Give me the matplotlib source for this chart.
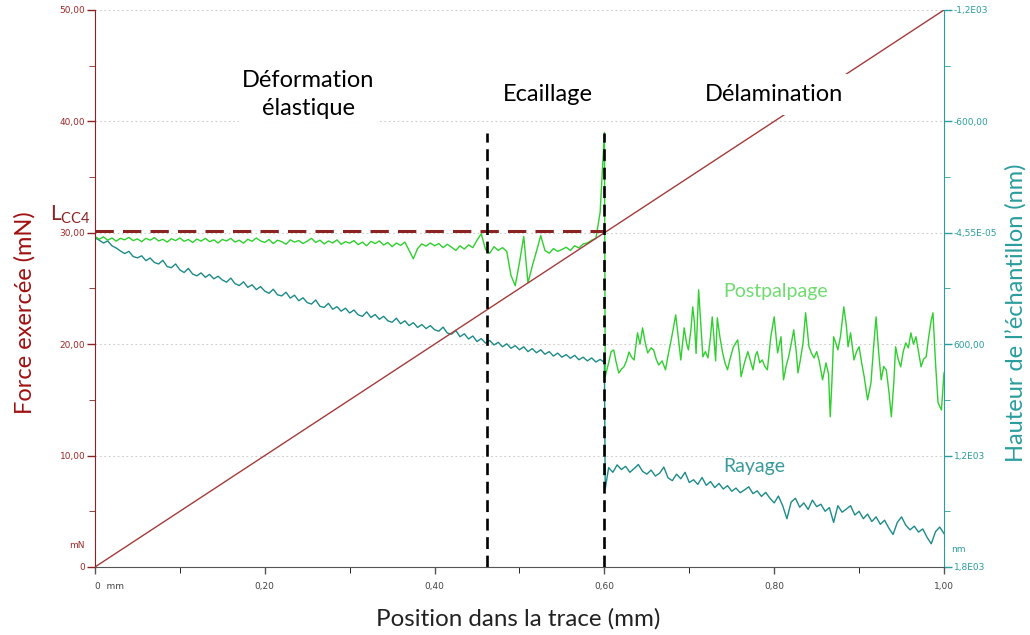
import numpy as np
import matplotlib
matplotlib.use('Agg')
import matplotlib.pyplot as plt
from matplotlib.ticker import FixedLocator

# force exercée (mN) : rampe linéaire
force_pos = [0.0, 1.0]
force_mn = [0.0, 50.0]

# Postpalpage avant 0.60 mm (nm), pas de 0.005 mm
post_pos_avant = np.round(np.arange(0, 0.6001, 0.005), 3)
post_nm_avant = [20, 35, 22, 40, 28, 45, 30, 38, 25, 42, 33, 48, 30, 40, 26, 44, 35, 50, 32, 42,
                 28, 46, 36, 52, 34, 45, 30, 48, 38, 55, 36, 44, 30, 50, 40, 56, 35, 46, 28, 44,
                 52, 36, 58, 40, 48, 62, 38, 50, 42, 58, 45, 30, 52, 40, 60, 44, 55, 38, 62, 48,
                 56, 42, 64, 50, 70, 46, 58, 44, 66, 52, 75, 55, 68, 50, 95, 140, 85, 60, 72, 55,
                 70, 58, 80, 62, 78, 95, 70, 88, 65, 80, 40, 5, 90, 110, 75, 95, 80, 100, 230, 285,
                 160, 20, 270, 180, 100, 15, 95, 110, 85, 100, 90, 78, 95, 70, 82, 60, 55, 40, 30, -110,
                 -540]

# Postpalpage après 0.60 mm (nm)
post_pos_apres = [0.601, 0.605, 0.608, 0.611, 0.614, 0.617, 0.620, 0.623, 0.626, 0.629, 0.632, 0.635,
                  0.639, 0.642, 0.645, 0.648, 0.651, 0.655, 0.658, 0.661, 0.664, 0.668, 0.672, 0.675,
                  0.678, 0.681, 0.684, 0.687, 0.690, 0.694, 0.697, 0.699, 0.702, 0.704, 0.706, 0.708,
                  0.711, 0.713, 0.716, 0.719, 0.722, 0.725, 0.727, 0.729, 0.731, 0.733, 0.736, 0.739,
                  0.742, 0.745, 0.748, 0.752, 0.757, 0.759, 0.761, 0.765, 0.769, 0.772, 0.775, 0.778,
                  0.780, 0.783, 0.786, 0.789, 0.792, 0.796, 0.800, 0.804, 0.808, 0.811, 0.814, 0.817,
                  0.820, 0.823, 0.826, 0.828, 0.831, 0.834, 0.837, 0.841, 0.844, 0.847, 0.850, 0.853,
                  0.857, 0.861, 0.864, 0.866, 0.868, 0.870, 0.873, 0.875, 0.878, 0.882, 0.885, 0.887,
                  0.890, 0.894, 0.897, 0.900, 0.903, 0.906, 0.910, 0.914, 0.917, 0.920, 0.923, 0.926,
                  0.929, 0.932, 0.935, 0.938, 0.941, 0.943, 0.946, 0.949, 0.952, 0.955, 0.958, 0.961,
                  0.964, 0.967, 0.970, 0.973, 0.976, 0.979, 0.982, 0.985, 0.987, 0.990, 0.993, 0.997,
                  1.000]
post_nm_apres = [775, 700, 640, 631, 700, 755, 735, 722, 690, 642, 670, 685,
                 539, 600, 512, 590, 647, 620, 631, 680, 712, 690, 738, 660,
                 593, 520, 442, 560, 685, 512, 600, 631, 520, 399, 480, 650,
                 307, 450, 668, 640, 674, 560, 453, 560, 690, 458, 560, 640,
                 700, 738, 680, 614, 577, 650, 775, 700, 640, 690, 738, 660,
                 640, 700, 685, 720, 738, 560, 453, 647, 560, 792, 720, 668,
                 600, 523, 640, 755, 680, 593, 431, 614, 650, 674, 640, 690,
                 792, 701, 760, 991, 800, 560, 600, 631, 560, 399, 500, 614,
                 539, 685, 640, 614, 700, 775, 900, 808, 620, 453, 640, 792,
                 720, 738, 850, 991, 800, 614, 680, 722, 640, 593, 620, 539,
                 600, 560, 640, 722, 680, 668, 560, 470, 431, 700, 916, 954,
                 755]

# Rayage (nm)
ray_pos_avant = np.round(np.arange(0, 0.6001, 0.005), 3)
ray_nm_avant = [27, 40, 55, 44, 70, 82, 98, 112, 100, 128, 135, 124, 150, 136, 160, 168, 148, 182, 188, 168,
                200, 214, 192, 222, 232, 216, 240, 224, 248, 234, 254, 266, 244, 274, 284, 264, 294, 280, 306, 290,
                314, 326, 304, 334, 340, 320, 352, 336, 366, 350, 376, 384, 362, 396, 402, 380, 412, 398, 422, 406,
                432, 416, 442, 450, 426, 456, 440, 466, 450, 474, 482, 460, 490, 474, 500, 484, 510, 494, 516, 500,
                522, 530, 508, 540, 546, 526, 560, 544, 572, 556, 586, 570, 594, 580, 604, 590, 614, 598, 622, 608,
                630, 614, 640, 624, 646, 630, 654, 640, 664, 648, 670, 656, 676, 660, 684, 670, 690, 674, 696, 682,
                698]
ray_pos_apres = [0.601] + list(np.round(np.arange(0.605, 1.0001, 0.005), 3))
ray_nm_apres = [1380, 1265, 1290, 1250, 1275, 1258, 1290, 1270, 1248, 1285, 1300, 1278, 1310, 1295, 1262,
                1320, 1335, 1300, 1325, 1290, 1345, 1330, 1355, 1318, 1360, 1340, 1372, 1350, 1380, 1362,
                1392, 1375, 1400, 1385, 1368, 1405, 1390, 1420, 1398, 1430, 1455, 1418, 1470, 1540, 1450,
                1430, 1478, 1455, 1490, 1440, 1475, 1462, 1500, 1480, 1560, 1470, 1505, 1488, 1470, 1520,
                1500, 1540, 1515, 1555, 1530, 1570, 1548, 1590, 1625, 1560, 1530, 1575, 1600, 1580, 1612,
                1595, 1640, 1675, 1610, 1585, 1620]

lcc4 = 30.2
pos_ecaillage = 0.462
pos_delamination = 0.600

force_ticks = [0, 10, 20, 30, 40, 50]
force_labels = ['0', '10,00', '20,00', '30,00', '40,00', '50,00']
nm_ticks = [-1200, -600, 0, 600, 1200, 1800]
nm_labels = ['-1,2E03', '-600,00', '-4,55E-05', '600,00', '1,2E03', '1,8E03']
pos_ticks = [0, 0.2, 0.4, 0.6, 0.8, 1.0]
pos_labels = ['0  mm', '0,20', '0,40', '0,60', '0,80', '1,00']

rouge = '#8b2323'
rouge_txt = '#a02828'
sarcelle = '#2a9d9d'
vert = '#2fcf2f'
txt_font = ['Lato', 'DejaVu Sans']

fig = plt.figure(figsize=(10.3, 6.35), dpi=100)
ax = fig.add_axes([0.0922, 0.1071, 0.8243, 0.8772])
ax2 = ax.twinx()
ax.set_zorder(ax2.get_zorder() + 1)
ax.patch.set_visible(False)

# courbes nm sur l'axe de droite
ax2.plot(np.concatenate([ray_pos_avant, ray_pos_apres]), ray_nm_avant + ray_nm_apres,
         color='#1d8a8a', linewidth=1.0)
ax2.plot(np.concatenate([post_pos_avant, post_pos_apres]), post_nm_avant + post_nm_apres,
         color=vert, linewidth=1.0)
ax2.set_ylim(1800, -1200)
ax2.grid(True, color='#cccccc', linestyle=(0, (1.5, 2.5)), linewidth=0.8)
ax2.set_axisbelow(True)

# force
ax.plot(force_pos, force_mn, color='#a33b3b', linewidth=1.0)
ax.plot([0, pos_delamination], [lcc4, lcc4], color=rouge, linewidth=2.2, dashes=(6, 3), zorder=4)
for p in [pos_ecaillage, pos_delamination]:
    ax.plot([p, p], [0, 39], color='black', linewidth=1.9, dashes=(4.5, 2.5), zorder=5)
ax.set_xlim(0, 1.0)
ax.set_ylim(0, 50)

# ticks
ax.yaxis.set_major_locator(FixedLocator(force_ticks))
ax.set_yticklabels(force_labels)
ax.yaxis.set_minor_locator(FixedLocator([5, 15, 25, 35, 45]))
ax.xaxis.set_major_locator(FixedLocator(pos_ticks))
ax.set_xticklabels(pos_labels)
ax.xaxis.set_minor_locator(FixedLocator([0.1, 0.3, 0.5, 0.7, 0.9]))
ax.get_xticklabels()[0].set_ha('left')
ax2.yaxis.set_major_locator(FixedLocator(nm_ticks))
ax2.set_yticklabels(nm_labels)
ax2.yaxis.set_minor_locator(FixedLocator([-900, -300, 300, 900, 1500]))

ax.tick_params(axis='y', colors=rouge, labelcolor=rouge_txt, labelsize=6.5, length=6, width=1, pad=1)
ax.tick_params(axis='y', which='minor', colors=rouge, length=4)
ax.tick_params(axis='x', colors='#555555', labelcolor='#444444', labelsize=6.5, length=5, width=1, pad=6)
ax.tick_params(axis='x', which='minor', length=4)
ax2.tick_params(axis='y', colors=sarcelle, labelcolor=sarcelle, labelsize=6.5, length=6, width=1, pad=1)
ax2.tick_params(axis='y', which='minor', colors=sarcelle, length=4)

for a in [ax, ax2]:
    a.spines['top'].set_visible(False)
ax.spines['left'].set_color(rouge)
ax.spines['right'].set_visible(False)
ax.spines['bottom'].set_color('#555555')
ax2.spines['right'].set_color(sarcelle)
ax2.spines['left'].set_visible(False)
ax2.spines['bottom'].set_visible(False)

ax.text(-0.012, 1.5, 'mN', color=rouge_txt, fontsize=6.5, ha='right', va='bottom',
        transform=ax.get_yaxis_transform(), clip_on=False)
ax2.text(1.008, 1730, 'nm', color=sarcelle, fontsize=6.5, ha='left', va='bottom',
         transform=ax2.get_yaxis_transform(), clip_on=False)

# annotations
box = dict(facecolor='white', edgecolor='none', pad=2)
ax.text(0.251, 42.4, 'Déformation\nélastique', ha='center', va='center', fontsize=17,
        family=txt_font, linespacing=1.45, bbox=box, zorder=6)
ax.text(0.534, 42.4, 'Ecaillage', ha='center', va='center', fontsize=17, family=txt_font,
        bbox=box, zorder=6)
ax.text(0.800, 42.4, 'Délamination', ha='center', va='center', fontsize=17, family=txt_font,
        bbox=dict(facecolor='white', edgecolor='none', pad=7), zorder=6)
ax.text(0.802, 24.7, 'Postpalpage', ha='center', va='center', fontsize=14, color='#6fdc6f',
        family=txt_font, zorder=6)
ax.text(0.776, 9.0, 'Rayage', ha='center', va='center', fontsize=14, color='#3a9a9a',
        family=txt_font, zorder=6)
ax.text(-0.005, lcc4 + 0.4, r'L$_{\mathregular{CC4}}$', ha='right', va='bottom', fontsize=15,
        color=rouge, family=txt_font, transform=ax.get_yaxis_transform(), clip_on=False)

fig.text(0.024, 0.507, 'Force exercée (mN)', rotation=90, ha='center', va='center',
         fontsize=17, color='#a01010', family=txt_font)
fig.text(0.986, 0.507, "Hauteur de l’échantillon (nm)", rotation=90, ha='center', va='center',
         fontsize=17, color=sarcelle, family=txt_font)
fig.text(0.503, 0.025, 'Position dans la trace (mm)', ha='center', va='center',
         fontsize=17.4, color='#222222', family=txt_font)

fig.savefig('out.png', dpi=100, facecolor='white')
